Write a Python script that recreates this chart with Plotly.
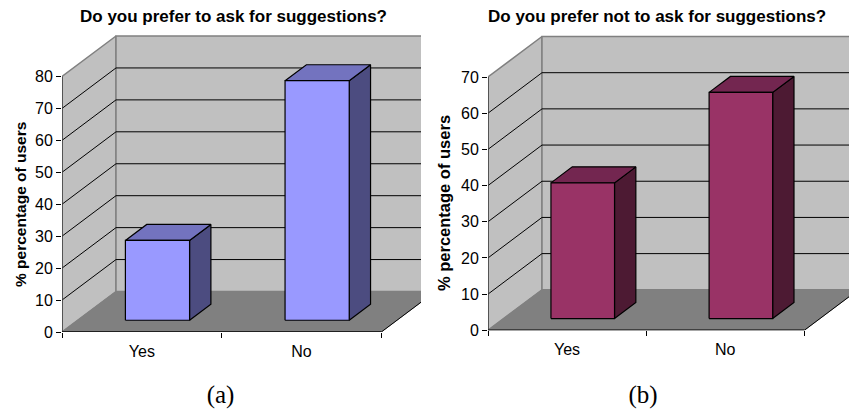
import plotly.graph_objects as go

# Survey results, percentage of users per answer
categories = ["Yes", "No"]
prefer_ask = [25, 75]
prefer_not_ask = [37.5, 62.5]
ticks_ask = [0, 10, 20, 30, 40, 50, 60, 70, 80]
ticks_not_ask = [0, 10, 20, 30, 40, 50, 60, 70]

W, H = 849, 410
SANS = "Liberation Sans, Arial, sans-serif"
SERIF = "Liberation Serif, Times New Roman, serif"
WALL, FLOOR, EDGE = "#C0C0C0", "#808080", "#808080"

# Oblique box depth in pixels, and where the bars sit along that depth
DEPTH_X, DEPTH_Y = 54, 40.5
BAR_WIDTH = 0.402
BAR_NEAR, BAR_FAR = 0.29, 0.685

panels = [
    dict(values=prefer_ask, ticks=ticks_ask,
         title="Do you prefer to ask for suggestions?", title_x=233, caption="(a)", cap_x=220.5,
         left=62, right_axis=381.3, clip=421, base=332, top_tick_px=76.5,
         ylabel_x=20, ylabel_y=205, ylabel_size=15.5,
         front="#9999FF", lid="#7373BF", side="#4C4C80"),
    dict(values=prefer_not_ask, ticks=ticks_not_ask,
         title="Do you prefer not to ask for suggestions?", title_x=656.5, caption="(b)", cap_x=643,
         left=488, right_axis=804.3, clip=849, base=330.3, top_tick_px=77,
         ylabel_x=444, ylabel_y=203, ylabel_size=16.5,
         front="#993366", lid="#732650", side="#4D1A33"),
]
TOP_PX = 30

fig = go.Figure()
annotations = []


def poly(xs, ys, fill, line, width, xa, ya):
    fig.add_trace(go.Scatter(x=xs + xs[:1], y=ys + ys[:1], mode="lines", fill="toself",
                             fillcolor=fill, line=dict(color=line, width=width),
                             xaxis=xa, yaxis=ya, hoverinfo="skip", showlegend=False))


def path(xs, ys, color, width, xa, ya, clip=True):
    fig.add_trace(go.Scatter(x=xs, y=ys, mode="lines", line=dict(color=color, width=width),
                             cliponaxis=clip, xaxis=xa, yaxis=ya, hoverinfo="skip", showlegend=False))


for n, p in enumerate(panels, start=1):
    xa, ya = f"x{n}", f"y{n}"
    top = p["ticks"][-1]
    n_cat = len(categories)
    band = (p["right_axis"] - p["left"]) / n_cat
    unit = (p["base"] - p["top_tick_px"]) / top
    dx, dy = DEPTH_X / band, DEPTH_Y / unit
    x_max = (p["clip"] - p["left"]) / band
    y_max = (p["base"] - TOP_PX) / unit

    # Side wall, back wall and floor
    poly([0, dx, dx, 0], [0, dy, top + dy, top], WALL, EDGE, 1.5, xa, ya)
    poly([dx, n_cat + dx, n_cat + dx, dx], [dy, dy, top + dy, top + dy], WALL, EDGE, 1.5, xa, ya)
    poly([0, n_cat, n_cat + dx, dx], [0, 0, dy, dy], FLOOR, FLOOR, 1, xa, ya)
    path([n_cat, n_cat + dx], [0, dy], "#000000", 1, xa, ya)

    # Grid lines run across the back wall and down the side wall
    gx, gy = [], []
    for t in p["ticks"][1:-1]:
        gx += [0, dx, n_cat + dx, None]
        gy += [t, t + dy, t + dy, None]
    path(gx, gy, "#000000", 1, xa, ya)

    # Bars: front face, lid and right side
    for i, v in enumerate(p["values"]):
        x0 = i + 0.5 - BAR_WIDTH / 2 + BAR_NEAR * dx
        x1 = x0 + BAR_WIDTH
        y0 = BAR_NEAR * dy
        ox = (BAR_FAR - BAR_NEAR) * dx
        oy = (BAR_FAR - BAR_NEAR) * dy
        poly([x1, x1 + ox, x1 + ox, x1], [y0, y0 + oy, y0 + oy + v, y0 + v], p["side"], "#000000", 1.2, xa, ya)
        poly([x0, x1, x1 + ox, x0 + ox], [y0 + v, y0 + v, y0 + oy + v, y0 + oy + v], p["lid"], "#000000", 1.2, xa, ya)
        poly([x0, x1, x1, x0], [y0, y0, y0 + v, y0 + v], p["front"], "#000000", 1.2, xa, ya)

    # Front axis lines
    path([0, 0], [0, top], "#404040", 1.5, xa, ya, clip=False)
    path([0, n_cat], [0, 0], "#000000", 1.5, xa, ya, clip=False)

    fig.update_layout({
        f"xaxis{n}": dict(domain=[p["left"] / W, p["clip"] / W], range=[0, x_max], anchor=ya, automargin=False,
                          showgrid=False, zeroline=False, showline=False,
                          tickmode="array", tickvals=[i + 0.5 for i in range(n_cat)], ticktext=categories,
                          ticks="", ticklabelstandoff=8, tickfont=dict(family=SANS, size=16, color="#000000"),
                          minor=dict(tickmode="array", tickvals=list(range(n_cat + 1)), ticks="outside",
                                     ticklen=5, tickwidth=1, tickcolor="#000000", showgrid=False)),
        f"yaxis{n}": dict(domain=[1 - p["base"] / H, 1 - TOP_PX / H], range=[0, y_max], anchor=xa, automargin=False,
                          showgrid=False, zeroline=False, showline=False,
                          tickmode="array", tickvals=p["ticks"], ticks="outside", ticklen=5, tickwidth=1,
                          tickcolor="#000000", tickfont=dict(family=SANS, size=16, color="#000000")),
    })

    annotations += [
        dict(text=f"<b>{p['title']}</b>", x=p["title_x"] / W, y=1 - 16 / H, xref="paper", yref="paper",
             showarrow=False, xanchor="center", yanchor="middle", font=dict(family=SANS, size=17, color="#000000")),
        dict(text="<b>% percentage of users</b>", x=p["ylabel_x"] / W, y=1 - p["ylabel_y"] / H,
             xref="paper", yref="paper", showarrow=False, textangle=-90, xanchor="center", yanchor="middle",
             font=dict(family=SANS, size=p["ylabel_size"], color="#000000")),
    ]

# Sub-figure captions sit on a full-page overlay measured in page pixels
fig.add_trace(go.Scatter(x=[p["cap_x"] for p in panels], y=[397 for p in panels],
                         text=[p["caption"] for p in panels], mode="text", cliponaxis=False,
                         textfont=dict(family=SERIF, size=25, color="#000000"), textposition="middle center",
                         xaxis="x3", yaxis="y3", hoverinfo="skip", showlegend=False))

fig.update_layout(width=W, height=H, margin=dict(l=0, r=0, t=0, b=0), autosize=False,
                  paper_bgcolor="#FFFFFF", plot_bgcolor="rgba(0,0,0,0)", showlegend=False,
                  xaxis3=dict(domain=[0, 1], range=[0, W], visible=False, anchor="y3", automargin=False),
                  yaxis3=dict(domain=[0, 1], range=[H, 0], visible=False, anchor="x3", automargin=False),
                  annotations=annotations)
fig.write_html("out.html", config=dict(displayModeBar=False))
